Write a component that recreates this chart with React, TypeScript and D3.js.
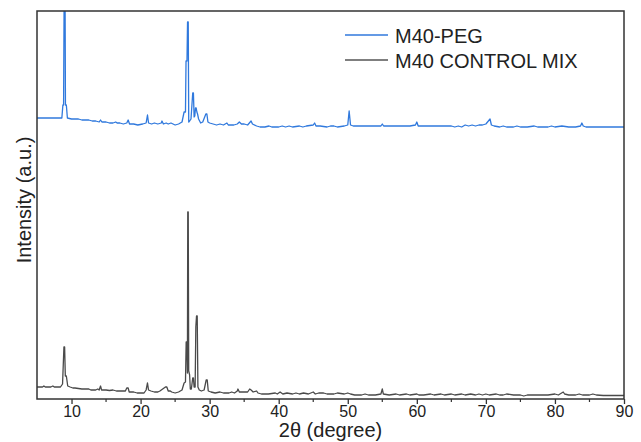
import React, { useEffect, useRef } from "react";
import * as d3 from "d3";

// 2θ (degree), intensity (a.u.)
const pegPattern: [number, number][] = [
  [5, 281], [6, 281], [7, 281], [8, 281], [8.6, 281], [8.75, 294], [8.85, 294], [8.95, 430], [9.05, 430],
  [9.12, 294], [9.25, 294], [9.4, 281], [10, 280], [11, 280], [11.5, 279], [12.5, 279], [13, 278], [13.5, 278],
  [14, 277], [14.2, 279], [14.4, 277], [15, 277], [15.5, 276], [16, 276], [16.4, 277], [16.6, 276], [17, 276],
  [17.5, 275], [18, 276], [18.2, 279], [18.4, 275], [19, 275], [19.6, 274], [20.3, 275], [20.8, 276], [21, 284],
  [21.15, 276], [21.6, 275], [22, 276], [22.5, 275], [23, 276], [23.1, 278], [23.3, 275], [23.7, 276], [24, 275],
  [24.4, 276], [25, 274], [25.5, 275], [26, 277], [26.3, 287], [26.5, 287], [26.58, 338], [26.72, 338],
  [26.8, 377], [26.9, 377], [26.97, 277], [27.1, 278], [27.3, 280], [27.55, 306], [27.65, 306], [27.75, 282],
  [27.85, 283], [27.95, 291], [28.05, 291], [28.15, 287], [28.25, 285], [28.4, 280], [28.7, 276], [29, 277],
  [29.45, 285], [29.6, 285], [29.75, 277], [30, 276], [30.5, 275], [31, 274], [31.5, 275], [32, 274], [32.5, 276],
  [32.7, 274], [33.5, 274], [34, 275], [34.3, 277], [34.6, 275], [35, 275], [35.5, 274], [36, 278], [36.2, 275],
  [36.8, 273], [37.3, 272], [38, 272], [38.6, 273], [39, 272], [40, 272], [40.5, 273], [41, 272], [41.5, 273],
  [42, 272], [43, 273], [43.5, 272], [44, 273], [45, 274], [45.2, 276], [45.4, 273], [46, 273], [47, 272],
  [47.5, 273], [48, 273], [48.5, 272], [49.5, 273], [50, 274], [50.2, 288], [50.4, 274], [50.8, 273], [52, 273],
  [53, 273], [54, 273], [54.8, 273], [55, 275], [55.2, 273], [56, 273], [57, 273], [58, 273], [59, 273],
  [59.8, 274], [60, 277], [60.2, 273], [61, 273], [62, 273], [63, 273], [64, 273], [65, 273], [65.5, 272],
  [66, 273], [66.5, 272], [67, 274], [67.5, 273], [68, 274], [68.5, 273], [69, 274], [69.5, 274], [70, 275],
  [70.6, 280], [70.8, 274], [71.2, 273], [72, 272], [72.5, 273], [73, 272], [74, 272], [74.5, 273], [75, 272],
  [76, 272], [77, 273], [77.5, 272], [78, 272], [79, 272], [79.5, 273], [80, 272], [81, 273], [82, 272],
  [83, 272], [83.7, 273], [83.9, 276], [84.1, 273], [84.5, 272], [90, 272],
];

const controlPattern: [number, number][] = [
  [5, 12], [5.8, 12], [6, 13], [6.2, 12], [7, 12], [7.3, 13], [7.5, 12], [8.4, 12], [8.7, 15], [8.9, 52],
  [9.0, 52], [9.1, 23], [9.25, 23], [9.45, 13], [9.8, 12], [10.2, 11], [10.5, 11], [11, 10.5], [11.5, 10],
  [12.5, 10], [12.8, 9], [13.5, 9], [13.8, 10], [14, 9], [14.2, 13], [14.35, 9], [15, 9], [15.5, 8.5], [16, 9],
  [16.5, 8], [17, 8], [17.8, 8], [18, 11], [18.2, 11], [18.35, 7], [19, 7], [19.5, 6], [20.5, 6], [20.8, 9],
  [21, 16], [21.15, 9], [21.5, 8], [22, 7], [22.5, 7], [22.8, 8], [23, 9], [23.2, 10], [23.4, 11], [23.6, 12],
  [23.8, 12], [24, 8], [24.3, 8], [24.5, 7], [25, 6], [25.5, 7], [26, 9], [26.3, 16], [26.5, 17], [26.6, 57],
  [26.7, 57], [26.78, 26], [26.83, 187], [26.9, 187], [26.97, 28], [27.1, 24], [27.2, 10], [27.35, 10],
  [27.55, 21], [27.65, 21], [27.75, 12], [27.9, 12], [28.0, 72], [28.1, 83], [28.2, 83], [28.3, 12], [28.5, 9],
  [28.8, 8], [29.2, 9], [29.5, 19], [29.65, 19], [29.8, 8], [30.2, 7], [30.8, 6], [31.5, 7], [32, 6], [32.8, 6],
  [33.2, 7], [33.6, 6], [34, 8], [34.1, 10], [34.3, 7], [35, 7], [35.5, 7], [35.8, 10], [36, 9], [36.3, 7],
  [36.8, 8], [37, 6], [37.5, 5], [38.5, 5], [39.5, 6], [39.8, 5], [40.2, 7], [40.6, 5], [41.2, 6], [42, 5],
  [42.5, 6], [43, 5], [43.6, 6], [44.3, 5], [45, 7], [45.3, 5], [45.8, 6], [46.5, 6], [47, 5], [48, 5],
  [48.5, 6], [49.5, 5], [50, 6], [50.4, 5], [51, 4], [52, 4], [52.5, 5], [53, 4], [54, 4], [54.8, 5], [55, 10],
  [55.15, 5], [56, 4], [57, 5], [57.5, 4], [58.5, 5], [59, 4], [60, 5], [60.3, 4], [61, 4], [62, 5], [62.5, 4],
  [63.5, 5], [64, 4], [65, 5], [65.5, 4], [66.5, 5], [67, 4], [67.8, 5], [68.5, 4], [69, 5], [69.5, 4], [70, 5],
  [70.5, 4], [71.5, 5], [72, 4], [72.5, 4], [73, 5], [74, 4], [75, 4], [75.5, 3], [76, 4], [77, 4], [78, 4],
  [79, 4], [80, 5], [80.5, 4], [81.2, 7], [81.4, 5], [82, 4], [83, 4], [83.5, 5], [84, 4], [85, 4], [85.5, 5],
  [86, 4], [87, 3.5], [90, 3.5],
];

const seriesNames = ["M40-PEG", "M40 CONTROL MIX"];
const seriesColors = ["#3079dd", "#4a4a4a"];
const xMajorTicks = [10, 20, 30, 40, 50, 60, 70, 80, 90];
const xMinorTicks = [15, 25, 35, 45, 55, 65, 75, 85];

const App = () => {
  const ref = useRef<SVGSVGElement>(null);

  useEffect(() => {
    const width = 641;
    const height = 442;
    const m = { top: 11, right: 17, bottom: 43, left: 37 };
    const font = "'Liberation Sans', Arial, sans-serif";

    const svg = d3.select(ref.current);
    svg.selectAll("*").remove();
    svg.attr("width", width).attr("height", height);

    const x = d3.scaleLinear().domain([5, 90]).range([m.left, width - m.right]);
    const y = d3.scaleLinear().domain([0, 388]).range([height - m.bottom, m.top]);

    svg.append("defs").append("clipPath").attr("id", "plot-clip")
      .append("rect")
      .attr("x", m.left).attr("y", m.top)
      .attr("width", width - m.left - m.right)
      .attr("height", height - m.top - m.bottom);

    const line = d3.line<[number, number]>()
      .x(d => x(d[0]))
      .y(d => y(d[1]));

    const g = svg.append("g").attr("clip-path", "url(#plot-clip)");
    [controlPattern, pegPattern].forEach((data, i) => {
      g.append("path")
        .datum(data)
        .attr("d", line)
        .attr("fill", "none")
        .attr("stroke", i === 1 ? seriesColors[0] : seriesColors[1])
        .attr("stroke-width", 1.3)
        .attr("stroke-linejoin", "round");
    });

    // frame
    svg.append("rect")
      .attr("x", m.left).attr("y", m.top)
      .attr("width", width - m.left - m.right)
      .attr("height", height - m.top - m.bottom)
      .attr("fill", "none")
      .attr("stroke", "#333")
      .attr("stroke-width", 1.5);

    const bottom = height - m.bottom;
    const xAxis = d3.axisBottom(x).tickValues(xMajorTicks).tickSize(5).tickSizeOuter(0);
    const ax = svg.append("g").attr("transform", `translate(0,${bottom})`).call(xAxis);
    ax.select(".domain").remove();
    ax.selectAll(".tick line").attr("stroke", "#333").attr("stroke-width", 1.3);
    ax.selectAll(".tick text")
      .attr("font-family", font)
      .attr("font-size", 16)
      .attr("fill", "#222")
      .attr("dy", "0.9em")
      .attr("y", 4);

    svg.append("g").selectAll("line")
      .data(xMinorTicks)
      .enter()
      .append("line")
      .attr("x1", d => x(d)).attr("x2", d => x(d))
      .attr("y1", bottom).attr("y2", bottom + 3)
      .attr("stroke", "#333")
      .attr("stroke-width", 1.2);

    svg.append("text")
      .attr("x", (m.left + width - m.right) / 2)
      .attr("y", 437)
      .attr("text-anchor", "middle")
      .attr("font-family", font)
      .attr("font-size", 20)
      .attr("fill", "#222")
      .text("2θ (degree)");

    svg.append("text")
      .attr("transform", `translate(31,200) rotate(-90)`)
      .attr("text-anchor", "middle")
      .attr("font-family", font)
      .attr("font-size", 20)
      .attr("fill", "#222")
      .text("Intensity (a.u.)");

    // legend
    const legend = svg.append("g");
    seriesNames.forEach((name, i) => {
      const ly = 35 + i * 25;
      legend.append("line")
        .attr("x1", 345).attr("x2", 388)
        .attr("y1", ly).attr("y2", ly)
        .attr("stroke", i === 0 ? seriesColors[0] : "#555")
        .attr("stroke-width", 1.3);
      legend.append("text")
        .attr("x", 395)
        .attr("y", ly + 7.5)
        .attr("font-family", font)
        .attr("font-size", 20)
        .attr("fill", "#222")
        .text(name);
    });
  }, []);

  return <svg ref={ref} style={{ position: "absolute", left: 0, top: 0 }}></svg>;
};

export default App;
